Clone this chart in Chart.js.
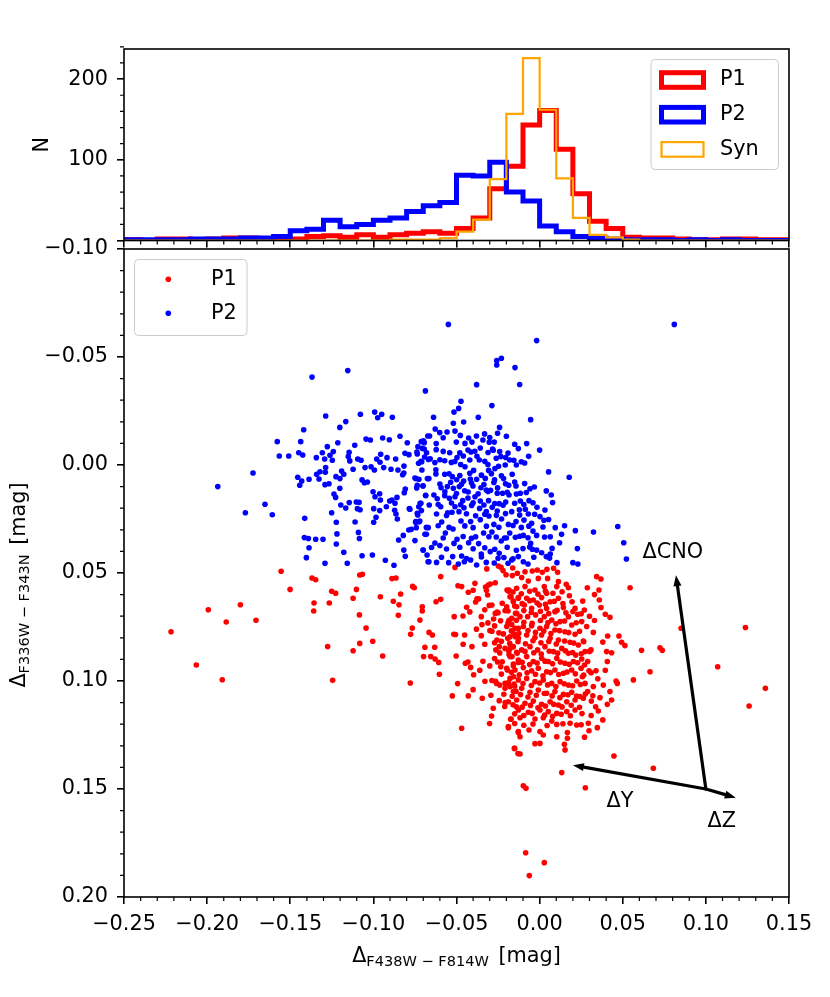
<!DOCTYPE html>
<html>
<head>
<meta charset="utf-8">
<script src="https://cdn.jsdelivr.net/npm/chart.js@4.4.1/dist/chart.umd.min.js"></script>
<style>
  body { margin: 0; background: #fff; overflow: hidden; }
  #wrap { position: relative; width: 830px; height: 997px; }
  #wrap canvas { position: absolute; left: 0; top: 0; }
</style>
</head>
<body>
<div id="wrap">
  <canvas id="scatter" width="830" height="997"></canvas>
  <canvas id="hist" width="830" height="262"></canvas>
</div>
<script>
"use strict"

// histogram bins (edges) and counts per bin
const binEdges = [-0.25,-0.24,-0.23,-0.22,-0.21,-0.20,-0.19,-0.18,-0.17,-0.16,-0.15,-0.14,-0.13,-0.12,-0.11,-0.10,-0.09,-0.08,-0.07,-0.06,
  -0.05,-0.04,-0.03,-0.02,-0.01,0.00,0.01,0.02,0.03,0.04,0.05,0.06,0.07,0.08,0.09,0.10,0.11,0.12,0.13,0.14,0.15]
const countsP1 = [1,0,2,2,1,2,3,3,2,2, 2,5,6,4,7,4,7,9,11,9, 15,28,64,92,143,161,113,58,24,15, 4,3,3,2,1,1,2,2,1,1]
const countsP2 = [1,1,1,1,2,2,2,3,3,5, 12,14,25,17,20,25,28,36,43,47, 81,80,97,60,49,18,11,5,3,2, 1,1,1,0,1,0,1,0,0,0]
const countsSyn = [0,0,0,0,0,0,0,0,0,0, 0,0,0,0,0,0,1,1,1,3, 11,26,76,157,226,162,77,28,7,4, 1,0,0,0,0,0,0,0,0,0]

// tick values
const xTicks = [-0.25,-0.20,-0.15,-0.10,-0.05,0.00,0.05,0.10,0.15]
const yTicksScatter = [-0.10,-0.05,0.00,0.05,0.10,0.15,0.20]
const yTicksHist = [0,100,200]

// P2 stars (blue)
const p2 = [
[-0.0687,-0.0343],[-0.1287,-0.0227],[-0.1078,-0.0235],[-0.0992,-0.0245],[-0.0950,-0.0235],[-0.0974,-0.0219],[-0.0886,-0.0221],[-0.1166,-0.0201],[-0.1202,-0.0174],[-0.1419,-0.0163],
[-0.1578,-0.0108],[-0.1437,-0.0108],[-0.1566,-0.0042],[-0.1509,-0.0042],[-0.1449,-0.0057],[-0.1425,-0.0046],[-0.1277,-0.0085],[-0.1214,-0.0103],[-0.1112,-0.0091],[-0.1044,-0.0120],
[-0.1018,-0.0116],[-0.0944,-0.0125],[-0.0904,-0.0117],[-0.0840,-0.0133],[-0.0796,-0.0103],[-0.0700,-0.0111],[-0.0673,-0.0134],[-0.1343,-0.0034],[-0.1307,-0.0057],[-0.1293,-0.0028],
[-0.1261,-0.0045],[-0.1241,-0.0062],[-0.1247,-0.0022],[-0.1146,-0.0059],[-0.1151,-0.0039],[-0.1142,-0.0019],[-0.1094,-0.0028],[-0.1074,-0.0022],[-0.0980,-0.0028],[-0.0956,-0.0050],
[-0.0960,-0.0013],[-0.0918,-0.0034],[-0.0866,-0.0028],[-0.0810,-0.0054],[-0.0786,-0.0048],[-0.0736,-0.0051],[-0.0706,-0.0077],[-0.0694,-0.0103],[-0.0709,-0.0015],[-0.0669,-0.0026],
[-0.1724,0.0037],[-0.1936,0.0100],[-0.1455,0.0057],[-0.1443,0.0094],[-0.1431,0.0074],[-0.1387,0.0066],[-0.1341,0.0043],[-0.1327,0.0065],[-0.1321,0.0031],[-0.1287,0.0012],
[-0.1289,0.0034],[-0.1291,0.0091],[-0.1267,0.0087],[-0.1225,0.0054],[-0.1201,0.0063],[-0.1191,0.0028],[-0.1178,0.0043],[-0.1202,0.0108],[-0.1237,0.0134],[-0.1227,0.0150],
[-0.1122,0.0020],[-0.1050,0.0012],[-0.1014,0.0008],[-0.0994,0.0023],[-0.1068,0.0069],[-0.1036,0.0079],[-0.1054,0.0082],[-0.1002,0.0124],[-0.0990,0.0147],[-0.0962,0.0133],
[-0.0958,0.0162],[-0.0938,0.0012],[-0.0894,0.0020],[-0.0852,0.0023],[-0.0817,0.0037],[-0.0816,0.0005],[-0.0824,0.0045],[-0.0750,0.0060],[-0.0726,0.0066],[-0.0675,0.0063],
[-0.0701,0.0096],[-0.0739,0.0106],[-0.0808,0.0111],[-0.0814,0.0128],[-0.0902,0.0167],[-0.0888,0.0162],[-0.0870,0.0177],[-0.0858,0.0150],[-0.0922,0.0193],[-0.1103,0.0171],
[-0.1086,0.0173],[-0.1096,0.0202],[-0.1080,0.0207],[-0.1145,0.0174],[-0.1166,0.0199],[-0.1196,0.0185],[-0.0998,0.0202],[-0.0984,0.0242],[-0.0998,0.0265],[-0.1110,0.0264],
[-0.1223,0.0265],[-0.1251,0.0221],[-0.1413,0.0247],[-0.1652,0.0182],[-0.1770,0.0221],[-0.1608,0.0230],[-0.1415,0.0336],[-0.1391,0.0340],[-0.1347,0.0344],[-0.1303,0.0344],
[-0.1387,0.0383],[-0.1403,0.0429],[-0.1291,0.0455],[-0.1219,0.0319],[-0.1223,0.0366],[-0.1178,0.0404],[-0.1157,0.0455],[-0.1090,0.0312],[-0.1084,0.0340],[-0.1068,0.0420],
[-0.1006,0.0417],[-0.0928,0.0441],[-0.0876,0.0464],[-0.0962,0.0211],[-0.0872,0.0210],[-0.0864,0.0227],[-0.0856,0.0250],[-0.0848,0.0347],[-0.0817,0.0394],[-0.0808,0.0423],
[-0.0820,0.0326],[-0.0787,0.0301],[-0.0772,0.0298],[-0.0742,0.0290],[-0.0750,0.0350],[-0.0701,0.0394],[-0.0677,0.0417],[-0.0671,0.0448],[-0.0733,0.0231],[-0.0745,0.0262],
[-0.0721,0.0259],[-0.0711,0.0211],[-0.0727,0.0193],[-0.0784,0.0202],[-0.0681,0.0289],[-0.0685,0.0142],[-0.0719,0.0177],[-0.0681,0.0321],
[-0.0379,-0.0372],[-0.0120,-0.0373],[-0.0473,-0.0295],[-0.0287,-0.0275],[-0.0487,-0.0262],[-0.0515,-0.0245],[-0.0638,-0.0221],[-0.0369,-0.0221],[-0.0054,-0.0210],
[-0.0519,-0.0193],[-0.0457,-0.0199],[-0.0241,-0.0174],[-0.0628,-0.0167],[-0.0601,-0.0150],[-0.0557,-0.0153],[-0.0509,-0.0157],[-0.0331,-0.0144],[-0.0253,-0.0147],[-0.0477,-0.0137],
[-0.0427,-0.0125],[-0.0662,-0.0134],[-0.0698,-0.0111],[-0.0712,-0.0108],[-0.0622,-0.0099],[-0.0501,-0.0106],[-0.0449,-0.0100],[-0.0407,-0.0106],[-0.0341,-0.0116],[-0.0303,-0.0105],
[-0.0273,-0.0106],[-0.0150,-0.0096],[-0.0078,-0.0099],[-0.0732,-0.0085],[-0.0694,-0.0074],[-0.0738,-0.0060],[-0.0622,-0.0071],[-0.0541,-0.0057],[-0.0431,-0.0069],[-0.0413,-0.0060],
[-0.0357,-0.0079],[-0.0283,-0.0074],[-0.0279,-0.0068],[-0.0128,-0.0076],[0.0000,-0.0069],[-0.0066,-0.0040],[-0.0692,-0.0037],[-0.0658,-0.0029],[-0.0714,-0.0017],[-0.0497,-0.0035],
[-0.0459,-0.0042],[-0.0377,-0.0040],[-0.0363,-0.0023],[-0.0261,-0.0031],[-0.0233,-0.0039],[-0.0204,-0.0035],[-0.0180,-0.0023],[-0.0140,0.0000],[-0.0090,-0.0009],[-0.0728,-0.0008],
[-0.0630,-0.0011],[-0.0571,-0.0020],[-0.0531,-0.0012],[-0.0475,-0.0002],[-0.0449,0.0008],[-0.0397,0.0025],[-0.0311,-0.0002],[-0.0269,0.0017],[-0.0247,0.0006],[-0.0207,0.0000],
[-0.0307,0.0025],[0.0054,0.0032],[0.0178,0.0057],[-0.0708,0.0023],[-0.0624,0.0022],[-0.0624,0.0042],[-0.0666,0.0063],[-0.0571,0.0043],[-0.0525,0.0054],[-0.0499,0.0068],
[-0.0457,0.0074],[-0.0417,0.0065],[-0.0379,0.0066],[-0.0327,0.0062],[-0.0271,0.0069],[-0.0217,0.0063],[-0.0186,0.0094],[-0.0142,0.0097],[-0.0058,0.0110],[-0.0032,0.0102],
[-0.0736,0.0094],[-0.0744,0.0063],[-0.0702,0.0097],[-0.0686,0.0140],[-0.0593,0.0105],[-0.0555,0.0100],[-0.0519,0.0108],[-0.0483,0.0100],[-0.0451,0.0119],[-0.0401,0.0097],
[-0.0353,0.0105],[-0.0321,0.0116],[-0.0295,0.0117],[-0.0253,0.0106],[-0.0223,0.0131],[-0.0184,0.0139],[-0.0116,0.0131],[-0.0116,0.0167],[-0.0064,0.0165],[-0.0016,0.0196],
[0.0040,0.0120],[0.0070,0.0139],[0.0078,0.0174],[0.0032,0.0208],[-0.0636,0.0139],[-0.0616,0.0156],[-0.0571,0.0142],[-0.0543,0.0154],[-0.0509,0.0147],[-0.0463,0.0165],
[-0.0431,0.0153],[-0.0389,0.0147],[-0.0357,0.0167],[-0.0307,0.0165],[-0.0243,0.0179],[-0.0204,0.0171],[-0.0714,0.0177],[-0.0780,0.0205],[-0.0664,0.0185],[-0.0595,0.0193],
[-0.0553,0.0221],[-0.0509,0.0193],[-0.0485,0.0216],[-0.0455,0.0198],[-0.0409,0.0187],[-0.0361,0.0201],[-0.0321,0.0215],[-0.0285,0.0196],[-0.0255,0.0213],[-0.0168,0.0216],
[-0.0122,0.0207],[-0.0086,0.0205],[-0.0736,0.0224],[-0.0726,0.0264],[-0.0746,0.0265],[-0.0670,0.0290],[-0.0589,0.0264],[-0.0527,0.0219],[-0.0473,0.0259],[-0.0415,0.0262],
[-0.0357,0.0253],[-0.0305,0.0236],[-0.0275,0.0275],[-0.0229,0.0250],[-0.0188,0.0275],[-0.0142,0.0262],[-0.0094,0.0255],[-0.0068,0.0227],[-0.0048,0.0270],[0.0002,0.0239],
[0.0026,0.0256],[0.0054,0.0252],[0.0094,0.0290],[0.0150,0.0281],[0.0215,0.0304],[0.0064,0.0332],[0.0120,0.0360],[0.0132,0.0321],[0.0227,0.0387],[0.0200,0.0452],
[0.0230,0.0458],[-0.0690,0.0321],[-0.0630,0.0361],[-0.0567,0.0315],[-0.0521,0.0296],[-0.0497,0.0344],[-0.0515,0.0363],[-0.0427,0.0360],[-0.0385,0.0332],[-0.0367,0.0364],
[-0.0337,0.0315],[-0.0287,0.0310],[-0.0261,0.0333],[-0.0231,0.0352],[-0.0211,0.0338],[-0.0180,0.0315],[-0.0146,0.0335],[-0.0098,0.0326],[-0.0040,0.0306],[-0.0018,0.0326],
[-0.0054,0.0363],[-0.0018,0.0394],[0.0012,0.0406],[0.0040,0.0424],[0.0064,0.0412],[0.0104,0.0452],[-0.0700,0.0394],[-0.0666,0.0448],[-0.0620,0.0451],[-0.0600,0.0373],
[-0.0523,0.0424],[-0.0469,0.0421],[-0.0489,0.0458],[-0.0453,0.0448],[-0.0415,0.0440],[-0.0379,0.0463],[-0.0351,0.0412],[-0.0321,0.0451],[-0.0297,0.0401],[-0.0243,0.0409],
[-0.0273,0.0454],[-0.0190,0.0455],[-0.0168,0.0440],[-0.0140,0.0395],[-0.0128,0.0424],[-0.0098,0.0448],[-0.0070,0.0458],[-0.0044,0.0390],[-0.0547,0.0452],
[0.0810,-0.0651],[-0.0018,-0.0576],[0.0470,0.0285],[0.0506,0.0360],[0.0522,0.0435],[0.0324,0.0310],[-0.0549,-0.0651],[-0.1369,-0.0407],[-0.1154,-0.0437],
[-0.0258,-0.0483],[-0.0230,-0.0494],[-0.0258,-0.0463],[-0.0148,-0.0451],
[-0.0545,0.0041],[-0.0480,0.0049],[-0.0420,0.0038],[-0.0350,0.0047],[-0.0290,0.0040],[-0.0230,0.0050],[-0.0165,0.0043],
[-0.0600,0.0088],[-0.0535,0.0080],[-0.0470,0.0089],[-0.0410,0.0082],[-0.0335,0.0090],[-0.0275,0.0081],[-0.0205,0.0087],[-0.0150,0.0079],[-0.0090,0.0086],
[-0.0570,0.0124],[-0.0500,0.0132],[-0.0430,0.0125],[-0.0370,0.0133],[-0.0310,0.0123],[-0.0255,0.0131],[-0.0195,0.0126],[-0.0140,0.0134],[-0.0080,0.0127],
[-0.0610,0.0183],[-0.0530,0.0176],[-0.0475,0.0184],[-0.0400,0.0175],[-0.0335,0.0185],[-0.0270,0.0178],[-0.0220,0.0186],[-0.0150,0.0177],[-0.0095,0.0183],[-0.0040,0.0175],
[-0.0620,0.0227],[-0.0560,0.0234],[-0.0440,0.0226],[-0.0385,0.0235],[-0.0330,0.0228],[-0.0260,0.0233],[-0.0205,0.0225],[-0.0120,0.0232],[-0.0030,0.0228],
[-0.0610,0.0281],[-0.0545,0.0289],[-0.0450,0.0282],[-0.0400,0.0290],[-0.0320,0.0283],[-0.0245,0.0288],[-0.0160,0.0280],[-0.0110,0.0289],[-0.0065,0.0283],[0.0020,0.0287],
[-0.0580,0.0338],[-0.0460,0.0331],[-0.0410,0.0339],[-0.0305,0.0332],[-0.0200,0.0338],[-0.0120,0.0330],[-0.0070,0.0337],[0.0030,0.0333],
[-0.0650,0.0382],[-0.0560,0.0389],[-0.0480,0.0381],[-0.0400,0.0388],[-0.0330,0.0383],[-0.0270,0.0390],[-0.0195,0.0381],[-0.0100,0.0387],[-0.0060,0.0380],[0.0075,0.0386],
[-0.0590,0.0427],[-0.0440,0.0433],[-0.0350,0.0426],[-0.0250,0.0432],[-0.0215,0.0428],[-0.0160,0.0434],[-0.0035,0.0427],[0.0060,0.0431],
[-0.0600,-0.0024],[-0.0510,-0.0016],[-0.0420,-0.0023],[-0.0330,-0.0017],[-0.0155,-0.0022],[-0.0110,-0.0015],
[-0.0680,-0.0057],[-0.0580,-0.0063],[-0.0480,-0.0056],[-0.0390,-0.0064],[-0.0310,-0.0058],[-0.0240,-0.0062],[-0.0190,-0.0055],
[-0.0580,-0.0126],[-0.0380,-0.0134],[-0.0300,-0.0127],[-0.0200,-0.0133]
]

// P1 stars (red)
const p1 = [
[-0.1555,0.0492],[-0.1501,0.0576],[-0.1369,0.0523],[-0.1347,0.0531],[-0.1357,0.0639],[-0.1359,0.0676],[-0.1251,0.0585],[-0.1227,0.0594],[-0.1265,0.0639],[-0.1275,0.0840],
[-0.1245,0.0997],[-0.2217,0.0772],[-0.2065,0.0926],[-0.1993,0.0670],[-0.1909,0.0994],[-0.1885,0.0727],[-0.1800,0.0647],[-0.1706,0.0719],[-0.1122,0.0617],[-0.1102,0.0576],
[-0.1082,0.0509],[-0.1066,0.0506],[-0.1084,0.0694],[-0.1044,0.0755],[-0.1082,0.0826],[-0.1122,0.0860],[-0.1004,0.0816],[-0.0944,0.0884],[-0.0958,0.0610],[-0.0888,0.0526],
[-0.0864,0.0523],[-0.0880,0.0631],[-0.0846,0.0647],[-0.0836,0.0597],[-0.0850,0.0696],[-0.0776,0.0784],[-0.0766,0.0755],[-0.0764,0.0562],[-0.0754,0.0568],[-0.0778,0.1009],
[-0.0720,0.0718],[-0.0706,0.0656],[-0.0706,0.0676],[-0.0690,0.0844],[-0.0698,0.0887],[-0.0665,0.0775],[-0.0645,0.0787],[-0.0655,0.0887],[-0.0631,0.0844],[-0.0629,0.0898],
[-0.0607,0.0914],[-0.0603,0.0969],[-0.0623,0.0633],[-0.0595,0.0622],[-0.0595,0.0517],[-0.0525,0.1069],[-0.0514,0.0702],[-0.0516,0.0784],[-0.0506,0.0785],[-0.0502,0.0884],
[-0.0493,0.1012],[-0.0491,0.0559],[-0.0469,0.0563],[-0.0509,0.0474],[-0.0461,0.0699],[-0.0451,0.0787],[-0.0439,0.0659],[-0.0429,0.0589],[-0.0469,0.1219],[-0.0429,0.1069],
[-0.0447,0.0918],[-0.0431,0.0912],[-0.0415,0.0937],[-0.0407,0.0841],[-0.0397,0.0971],[-0.0389,0.0548],[-0.0385,0.0634],[-0.0377,0.0619],[-0.0367,0.0620],[-0.0351,0.0702],
[-0.0347,0.0739],[-0.0351,0.0790],[-0.0341,0.0909],[-0.0329,0.1001],[-0.0325,0.0565],[-0.0309,0.0556],[-0.0297,0.0551],[-0.0313,0.0602],[-0.0303,0.0650],[-0.0287,0.0648],
[-0.0311,0.0731],[-0.0299,0.0767],[-0.0287,0.0770],[-0.0277,0.0713],[-0.0267,0.0687],[-0.0255,0.0681],[-0.0271,0.0745],[-0.0257,0.0810],[-0.0271,0.0823],[-0.0263,0.0856],
[-0.0271,0.0896],[-0.0253,0.0912],[-0.0234,0.0934],[-0.0265,0.1001],[-0.0259,0.1011],[-0.0287,0.0998],[-0.0293,0.1066],[-0.0279,0.1126],[-0.0301,0.1197],[-0.0289,0.1162],
[-0.0243,0.1091],[-0.0207,0.1100],[-0.0188,0.1216],[-0.0174,0.1177],[-0.0150,0.1312],[-0.0130,0.1336],[-0.0128,0.1239],[-0.0140,0.1119],[-0.0318,0.0481],[-0.0267,0.0545],
[-0.0248,0.0468],[-0.0232,0.0474],[-0.0220,0.0489],[-0.0202,0.0508],[-0.0162,0.0477],[-0.0196,0.0579],[-0.0186,0.0585],[-0.0172,0.0610],[-0.0208,0.0674],[-0.0184,0.0719],
[-0.0168,0.0738],[-0.0192,0.0802],[-0.0218,0.0782],[-0.0243,0.0841],[-0.0154,0.0782],[-0.0146,0.0795],[-0.0178,0.0849],[-0.0162,0.0841],[-0.0184,0.0877],[-0.0166,0.0887],
[-0.0194,0.0949],[-0.0158,0.0931],[-0.0208,0.1011],[-0.0188,0.1008],[-0.0178,0.1026],[-0.0154,0.1014],[-0.0156,0.0980],[-0.0142,0.1048],[-0.0158,0.0633],[-0.0128,0.0617],
[-0.0150,0.0653],[-0.0138,0.0687],[-0.0128,0.0756],[-0.0138,0.0867],[-0.0128,0.0914],
[-0.0164,0.0512],[-0.0134,0.0501],[-0.0108,0.0521],[-0.0088,0.0494],[-0.0068,0.0537],[-0.0044,0.0491],[-0.0014,0.0486],[0.0016,0.0497],[0.0044,0.0483],[0.0084,0.0478],
[0.0108,0.0497],[-0.0008,0.0525],[0.0048,0.0525],[0.0113,0.0540],[0.0160,0.0552],[0.0343,0.0517],[0.0369,0.0528],[0.0287,0.0568],[0.0357,0.0579],[0.0544,0.0568],
[-0.0184,0.0579],[-0.0138,0.0571],[-0.0088,0.0563],[-0.0028,0.0579],[0.0028,0.0563],[0.0042,0.0594],[0.0103,0.0563],[0.0173,0.0568],[-0.0178,0.0610],[-0.0128,0.0614],
[-0.0078,0.0617],[-0.0038,0.0625],[0.0012,0.0614],[0.0063,0.0633],[0.0113,0.0617],[0.0179,0.0605],[0.0259,0.0630],[0.0359,0.0625],[0.0213,0.0664],[0.0269,0.0671],
[0.0369,0.0660],[0.0395,0.0691],[0.0423,0.0705],[-0.0198,0.0656],[-0.0138,0.0656],[-0.0092,0.0648],[-0.0048,0.0664],[-0.0002,0.0648],[0.0042,0.0664],[0.0092,0.0679],
[0.0143,0.0660],[0.0173,0.0702],[0.0229,0.0691],[-0.0168,0.0710],[-0.0118,0.0702],[-0.0072,0.0702],[-0.0024,0.0694],[0.0028,0.0702],[0.0073,0.0718],[0.0123,0.0725],
[0.0193,0.0741],[0.0253,0.0725],[0.0283,0.0748],[0.0323,0.0775],[0.0409,0.0792],[0.0477,0.0792],[0.0493,0.0821],[0.0513,0.0836],[0.0613,0.0858],[0.0724,0.0846],
[0.0738,0.0858],[-0.0198,0.0748],[-0.0148,0.0756],[-0.0098,0.0748],[-0.0048,0.0744],[0.0002,0.0756],[0.0042,0.0748],[0.0092,0.0764],[0.0152,0.0772],[0.0213,0.0784],
[0.0263,0.0815],[-0.0178,0.0795],[-0.0128,0.0802],[-0.0078,0.0787],[-0.0028,0.0799],[0.0012,0.0787],[0.0063,0.0802],[0.0113,0.0810],[0.0183,0.0821],[0.0233,0.0833],
[0.0309,0.0856],[0.0403,0.0864],[0.0433,0.0869],[0.0407,0.0910],[-0.0208,0.0849],[-0.0158,0.0841],[-0.0108,0.0856],[-0.0058,0.0841],[-0.0012,0.0856],[0.0032,0.0841],
[0.0083,0.0864],[0.0133,0.0849],[0.0173,0.0872],[0.0217,0.0880],[0.0273,0.0864],[-0.0178,0.0887],[-0.0128,0.0903],[-0.0078,0.0887],[-0.0038,0.0910],[0.0012,0.0895],
[0.0052,0.0910],[0.0103,0.0895],[0.0152,0.0918],[0.0203,0.0910],[0.0253,0.0898],[0.0289,0.0910],[-0.0198,0.0941],[-0.0148,0.0949],[-0.0098,0.0938],[-0.0048,0.0953],
[-0.0008,0.0941],[0.0042,0.0957],[0.0092,0.0949],[0.0143,0.0964],[0.0193,0.0949],[0.0249,0.0941],[0.0297,0.0953],[0.0339,0.0953],[0.0257,0.0980],[-0.0178,0.0988],
[-0.0128,0.0995],[-0.0078,0.0988],[-0.0028,0.1003],[0.0022,0.0995],[0.0073,0.1011],[0.0123,0.1003],[0.0173,0.1019],[0.0223,0.1000],[0.0273,0.1011],[0.0323,0.1026],
[0.0383,0.1019],[0.0460,0.1000],[0.0467,0.1011],[0.0564,0.0995],[0.0664,0.0957],[-0.0208,0.1034],[-0.0158,0.1049],[-0.0108,0.1034],[-0.0058,0.1052],[-0.0008,0.1042],
[0.0042,0.1057],[0.0092,0.1049],[0.0143,0.1062],[0.0193,0.1052],[0.0243,0.1072],[0.0289,0.1049],[0.0363,0.1077],[0.0423,0.1049],[0.0433,0.1088],[-0.0188,0.1096],
[-0.0138,0.1088],[-0.0088,0.1103],[-0.0038,0.1093],[0.0012,0.1108],[0.0063,0.1096],[0.0113,0.1111],[0.0163,0.1096],[0.0213,0.1088],[0.0263,0.1080],[0.0311,0.1093],
[0.0407,0.1108],[0.0337,0.1119],[0.0353,0.1139],[-0.0128,0.1134],[-0.0068,0.1145],[0.0002,0.1134],[0.0052,0.1142],[0.0103,0.1150],[0.0163,0.1142],[0.0213,0.1134],
[-0.0118,0.1170],[-0.0172,0.1176],[-0.0028,0.1176],[0.0022,0.1170],[0.0073,0.1185],[0.0103,0.1201],[0.0183,0.1196],[0.0223,0.1204],[0.0293,0.1196],[0.0347,0.1216],
[-0.0188,0.1211],[-0.0128,0.1234],[-0.0064,0.1227],[0.0002,0.1234],[0.0022,0.1250],[0.0103,0.1258],[0.0167,0.1239],[0.0167,0.1265],[0.0297,0.1230],[-0.0118,0.1258],
[-0.0028,0.1290],[0.0002,0.1289],[0.0149,0.1293],[0.0153,0.1319],[-0.0152,0.1312],[-0.0118,0.1338],[0.0447,0.1347],[0.0684,0.1404],
[0.0851,0.0756],[0.1238,0.0752],[0.1071,0.0934],[0.1358,0.1034],[0.1260,0.1116],[0.0133,0.1424],[0.0275,0.1494],[-0.0098,0.1485],[-0.0082,0.1497],
[-0.0084,0.1795],[0.0028,0.1841],[-0.0062,0.1901],
[-0.0160,0.0588],[-0.0110,0.0596],[-0.0060,0.0585],[-0.0010,0.0598],[0.0035,0.0583],[0.0080,0.0594],[0.0135,0.0587],
[-0.0225,0.0640],[-0.0158,0.0630],[-0.0105,0.0642],[-0.0060,0.0628],[-0.0015,0.0639],[0.0035,0.0645],[0.0088,0.0631],[0.0140,0.0641],[0.0195,0.0633],
[-0.0250,0.0684],[-0.0190,0.0676],[-0.0145,0.0687],[-0.0095,0.0674],[-0.0050,0.0683],[0.0005,0.0677],[0.0055,0.0688],[0.0105,0.0673],[0.0158,0.0684],[0.0200,0.0678],[0.0250,0.0689],
[-0.0235,0.0721],[-0.0190,0.0731],[-0.0140,0.0719],[-0.0095,0.0728],[-0.0045,0.0733],[0.0005,0.0720],[0.0050,0.0729],[0.0098,0.0735],[0.0150,0.0722],[0.0220,0.0730],
[-0.0245,0.0777],[-0.0170,0.0768],[-0.0125,0.0779],[-0.0070,0.0766],[-0.0025,0.0775],[0.0025,0.0769],[0.0068,0.0780],[0.0120,0.0767],[0.0175,0.0776],[0.0240,0.0770],
[-0.0230,0.0816],[-0.0180,0.0826],[-0.0130,0.0818],[-0.0085,0.0828],[-0.0040,0.0814],[0.0008,0.0823],[0.0055,0.0817],[0.0100,0.0829],[0.0150,0.0815],[0.0205,0.0824],[0.0265,0.0818],
[-0.0240,0.0870],[-0.0185,0.0861],[-0.0135,0.0872],[-0.0088,0.0863],[-0.0035,0.0869],[0.0010,0.0875],[0.0058,0.0862],[0.0108,0.0871],[0.0155,0.0860],[0.0198,0.0868],[0.0250,0.0874],[0.0300,0.0863],
[-0.0225,0.0911],[-0.0158,0.0921],[-0.0105,0.0913],[-0.0060,0.0924],[-0.0015,0.0917],[0.0032,0.0908],[0.0078,0.0920],[0.0125,0.0912],[0.0178,0.0923],[0.0228,0.0916],[0.0270,0.0926],
[-0.0230,0.0968],[-0.0170,0.0960],[-0.0122,0.0971],[-0.0075,0.0962],[-0.0025,0.0969],[0.0020,0.0976],[0.0065,0.0961],[0.0115,0.0970],[0.0165,0.0958],[0.0215,0.0967],[0.0265,0.0973],[0.0310,0.0962],
[-0.0240,0.1019],[-0.0190,0.1010],[-0.0150,0.1024],[-0.0100,0.1012],[-0.0050,0.1021],[0.0000,0.1009],[0.0048,0.1018],[0.0098,0.1026],[0.0148,0.1013],[0.0198,0.1022],[0.0245,0.1016],
[-0.0215,0.1061],[-0.0165,0.1071],[-0.0115,0.1063],[-0.0070,0.1074],[-0.0020,0.1066],[0.0028,0.1058],[0.0075,0.1069],[0.0122,0.1077],[0.0170,0.1064],[0.0222,0.1070],[0.0275,0.1060],[0.0320,0.1068],
[-0.0210,0.1118],[-0.0160,0.1110],[-0.0105,0.1121],[-0.0055,0.1113],[-0.0010,0.1124],[0.0035,0.1116],[0.0085,0.1108],[0.0135,0.1120],[0.0190,0.1112],[0.0240,0.1122],
[-0.0150,0.1152],[-0.0095,0.1160],[-0.0045,0.1150],[0.0030,0.1158],[0.0078,0.1163],[0.0130,0.1154],[0.0185,0.1161],[0.0255,0.1151],
[-0.0150,0.1197],[-0.0095,0.1205],[-0.0040,0.1199],[0.0045,0.1206],[0.0140,0.1198],[0.0250,0.1203],
[-0.0420,0.0680],[-0.0380,0.0760],[-0.0330,0.0830],[-0.0360,0.0950],[-0.0460,0.0830],[-0.0400,0.1040],[-0.0345,0.1080],[-0.0320,0.0580],[-0.0400,0.0580],[-0.0330,0.0670],
[-0.0300,0.0930],[0.0330,0.0720],[0.0380,0.0820],[0.0350,0.0990],[0.0395,0.0950],[0.0310,0.1160],[0.0270,0.1260],[0.0380,0.1180],[0.0330,0.0600],[0.0300,0.0700]
]

// vectors drawn in the scatter panel
const vectorOrigin = [0.100, 0.150]
const vectorTips = [[0.082, 0.051], [0.020, 0.139], [0.118, 0.154]]
const vectorNames = ['ΔCNO', 'ΔY', 'ΔZ']
const vectorTextAt = [[0.0801, 0.0407], [0.0484, 0.1559], [0.1095, 0.1651]]

const FONT = '"DejaVu Sans", sans-serif'
const FS = 20.8
const mainFont = FS + 'px ' + FONT
const subFont = (FS * 0.7) + 'px ' + FONT

function fmt(v, d) {
  const s = Math.abs(v).toFixed(d)
  return (v < -1e-9 ? '\u2212' : '') + s
}

function stepPoints(counts) {
  const pts = [{x: binEdges[0], y: 0}]
  counts.forEach((c, i) => pts.push({x: binEdges[i], y: c}))
  pts.push({x: binEdges[counts.length], y: counts[counts.length - 1]})
  pts.push({x: binEdges[counts.length], y: 0})
  return pts
}

// text with a subscript part, like matplotlib mathtext
function drawMath(ctx, parts, cx, cy, rot) {
  ctx.save()
  ctx.translate(cx, cy)
  ctx.rotate(rot)
  ctx.fillStyle = '#000'
  ctx.textAlign = 'left'
  ctx.textBaseline = 'alphabetic'
  let total = 0
  const widths = parts.map(p => {
    ctx.font = p.sub ? subFont : mainFont
    const w = ctx.measureText(p.t).width + (p.gap || 0)
    total += w
    return w
  })
  let u = -total / 2
  parts.forEach((p, i) => {
    ctx.font = p.sub ? subFont : mainFont
    ctx.fillText(p.t, u + (p.gap || 0), p.sub ? 3.5 : 0)
    u += widths[i]
  })
  ctx.restore()
}

// box round the plot area
const frame = {
  id: 'frame',
  afterDraw(chart) {
    const {ctx, chartArea: a} = chart
    ctx.save()
    ctx.strokeStyle = '#000'
    ctx.lineWidth = 1.6
    ctx.strokeRect(a.left, a.top, a.right - a.left, a.bottom - a.top)
    ctx.restore()
  }
}

// small ticks between the labelled ones
const minorTicks = {
  id: 'minorTicks',
  afterDraw(chart, args, opts) {
    const {ctx, chartArea: a, scales} = chart
    ctx.save()
    ctx.strokeStyle = '#000'
    ctx.lineWidth = 1.2
    ctx.beginPath()
    const xs = scales.x
    const nx = Math.round((xs.max - xs.min) / opts.xStep)
    for (let k = 0; k <= nx; k++) {
      if (k % opts.xEvery === 0) continue
      const px = xs.getPixelForValue(xs.min + k * opts.xStep)
      ctx.moveTo(px, a.bottom)
      ctx.lineTo(px, a.bottom + 4)
    }
    const ys = scales.y
    const ny = Math.round((ys.max - ys.min) / opts.yStep)
    for (let k = 0; k <= ny; k++) {
      if (k % opts.yEvery === 0) continue
      const py = ys.getPixelForValue(ys.min + k * opts.yStep)
      ctx.moveTo(a.left, py)
      ctx.lineTo(a.left - 4, py)
    }
    ctx.stroke()
    ctx.restore()
  }
}

function legendBox(ctx, x, y, w, h) {
  ctx.save()
  ctx.beginPath()
  ctx.roundRect(x, y, w, h, 4)
  ctx.fillStyle = 'rgba(255,255,255,0.8)'
  ctx.fill()
  ctx.strokeStyle = '#cccccc'
  ctx.lineWidth = 1
  ctx.stroke()
  ctx.restore()
}

const histLegend = {
  id: 'histLegend',
  afterDraw(chart) {
    const {ctx, chartArea: a} = chart
    const bx = a.right - 138, by = a.top + 10.5
    legendBox(ctx, bx, by, 127.5, 110)
    ctx.save()
    ctx.font = mainFont
    ctx.textBaseline = 'middle'
    ctx.textAlign = 'left'
    chart.data.datasets.forEach((ds, i) => {
      const cy = by + 20.5 + i * 34.7
      ctx.strokeStyle = ds.borderColor
      ctx.lineWidth = ds.borderWidth
      ctx.strokeRect(bx + 10.5, cy - 7.3, 42, 14.6)
      ctx.fillStyle = '#000'
      ctx.fillText(ds.label, bx + 69, cy)
    })
    ctx.restore()
  }
}

const scatterLegend = {
  id: 'scatterLegend',
  afterDraw(chart) {
    const {ctx, chartArea: a} = chart
    const bx = a.left + 10.5, by = a.top + 10.5
    legendBox(ctx, bx, by, 112.5, 76)
    ctx.save()
    ctx.font = mainFont
    ctx.textBaseline = 'middle'
    ctx.textAlign = 'left'
    chart.data.datasets.forEach((ds, i) => {
      const cy = by + 19.8 + i * 34
      ctx.fillStyle = ds.backgroundColor
      ctx.beginPath()
      ctx.arc(bx + 33.8, cy, ds.pointRadius, 0, Math.PI * 2)
      ctx.fill()
      ctx.fillStyle = '#000'
      ctx.fillText(ds.label, bx + 76.5, cy)
    })
    ctx.restore()
  }
}

const vectors = {
  id: 'vectors',
  afterDatasetsDraw(chart) {
    const {ctx, scales: {x, y}} = chart
    const ox = x.getPixelForValue(vectorOrigin[0])
    const oy = y.getPixelForValue(vectorOrigin[1])
    ctx.save()
    ctx.strokeStyle = '#000'
    ctx.fillStyle = '#000'
    vectorTips.forEach(([tx, ty], i) => {
      const px = x.getPixelForValue(tx), py = y.getPixelForValue(ty)
      const ang = Math.atan2(py - oy, px - ox)
      const head = 11, half = 4
      const bx = px - head * Math.cos(ang), by = py - head * Math.sin(ang)
      ctx.lineWidth = 3.2
      ctx.lineCap = 'round'
      ctx.beginPath()
      ctx.moveTo(ox, oy)
      ctx.lineTo(bx, by)
      ctx.stroke()
      ctx.beginPath()
      ctx.moveTo(px, py)
      ctx.lineTo(bx - half * Math.sin(ang), by + half * Math.cos(ang))
      ctx.lineTo(bx + half * Math.sin(ang), by - half * Math.cos(ang))
      ctx.closePath()
      ctx.fill()
      ctx.font = mainFont
      ctx.textAlign = 'center'
      ctx.textBaseline = 'middle'
      ctx.fillText(vectorNames[i], x.getPixelForValue(vectorTextAt[i][0]), y.getPixelForValue(vectorTextAt[i][1]))
    })
    ctx.restore()
  }
}

const scatterTitles = {
  id: 'scatterTitles',
  afterDraw(chart) {
    const {ctx, chartArea: a} = chart
    drawMath(ctx, [{t: 'Δ'}, {t: 'F438W \u2212 F814W', sub: true}, {t: ' [mag]', gap: 3}], (a.left + a.right) / 2, 962, 0)
    drawMath(ctx, [{t: 'Δ'}, {t: 'F336W \u2212 F343N', sub: true}, {t: ' [mag]', gap: 3}], 25, 585, -Math.PI / 2)
  }
}

const histTitle = {
  id: 'histTitle',
  afterDraw(chart) {
    const {ctx, chartArea: a} = chart
    drawMath(ctx, [{t: 'N'}], 47.5, (a.top + a.bottom) / 2, -Math.PI / 2)
  }
}

const tickFont = {family: FONT, size: FS}
const majorGrid = {drawOnChartArea: false, drawTicks: true, tickLength: 7, tickWidth: 1.6, lineWidth: 1.6, tickColor: '#000', color: '#000'}

// upper panel: step histograms
new Chart(document.getElementById('hist'), {
  type: 'line',
  data: {
    datasets: [
      {label: 'P1', data: stepPoints(countsP1), borderColor: '#ff0000', borderWidth: 5, stepped: true, pointRadius: 0, fill: false, order: 2},
      {label: 'P2', data: stepPoints(countsP2), borderColor: '#0000ff', borderWidth: 5, stepped: true, pointRadius: 0, fill: false, order: 1},
      {label: 'Syn', data: stepPoints(countsSyn), borderColor: '#ffa500', borderWidth: 2.2, stepped: true, pointRadius: 0, fill: false, order: 0}
    ]
  },
  options: {
    responsive: false,
    animation: false,
    events: [],
    layout: {padding: {left: 0, right: 41, top: 49, bottom: 2}},
    plugins: {
      legend: {display: false},
      tooltip: {enabled: false},
      minorTicks: {xStep: 0.01, xEvery: 5, yStep: 20, yEvery: 5}
    },
    scales: {
      x: {
        type: 'linear', min: -0.25, max: 0.15,
        afterBuildTicks: s => { s.ticks = xTicks.map(v => ({value: v})) },
        afterFit: s => { s.height = 11 },
        ticks: {display: false},
        grid: majorGrid,
        border: {display: false}
      },
      y: {
        type: 'linear', min: 0, max: 237.3,
        afterBuildTicks: s => { s.ticks = yTicksHist.map(v => ({value: v})) },
        afterFit: s => { s.width = 124 },
        ticks: {font: tickFont, color: '#000', padding: 9, callback: v => v === 0 ? '' : String(v)},
        grid: majorGrid,
        border: {display: false}
      }
    }
  },
  plugins: [frame, minorTicks, histLegend, histTitle]
})

// lower panel: the two populations
new Chart(document.getElementById('scatter'), {
  type: 'scatter',
  data: {
    datasets: [
      {label: 'P1', data: p1.map(([x, y]) => ({x, y})), backgroundColor: '#ff0000', pointRadius: 2.8, borderWidth: 0, order: 1},
      {label: 'P2', data: p2.map(([x, y]) => ({x, y})), backgroundColor: '#0000ff', pointRadius: 2.8, borderWidth: 0, order: 0}
    ]
  },
  options: {
    responsive: false,
    animation: false,
    events: [],
    layout: {padding: {left: 0, right: 41, top: 249, bottom: 0}},
    plugins: {
      legend: {display: false},
      tooltip: {enabled: false},
      minorTicks: {xStep: 0.01, xEvery: 5, yStep: 0.01, yEvery: 5}
    },
    scales: {
      x: {
        type: 'linear', min: -0.25, max: 0.15,
        afterBuildTicks: s => { s.ticks = xTicks.map(v => ({value: v})) },
        afterFit: s => { s.height = 100 },
        ticks: {font: tickFont, color: '#000', padding: 8, autoSkip: false, maxRotation: 0, callback: v => fmt(v, 2)},
        grid: majorGrid,
        border: {display: false}
      },
      y: {
        type: 'linear', min: -0.10, max: 0.20, reverse: true,
        afterBuildTicks: s => { s.ticks = yTicksScatter.map(v => ({value: v})) },
        afterFit: s => { s.width = 124 },
        ticks: {font: tickFont, color: '#000', padding: 9, callback: v => fmt(v, 2)},
        grid: majorGrid,
        border: {display: false}
      }
    }
  },
  plugins: [frame, minorTicks, vectors, scatterLegend, scatterTitles]
})
</script>
</body>
</html>
